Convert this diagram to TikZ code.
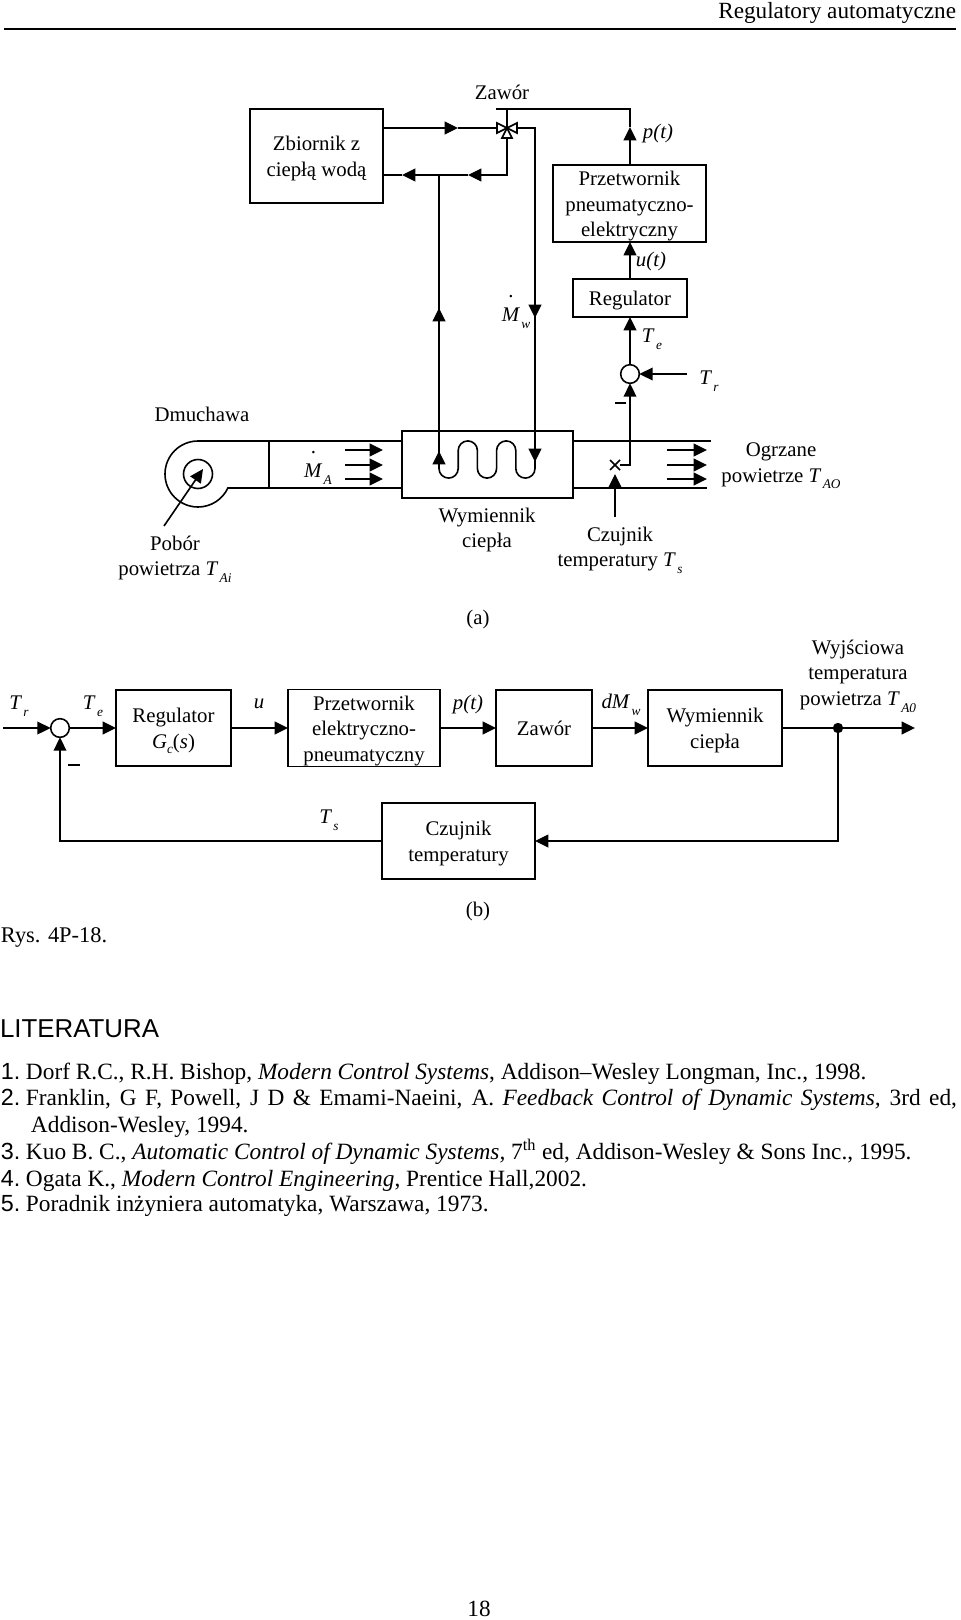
\documentclass[tikz,border=0pt]{standalone}
\usepackage{fontspec}
\setmainfont{Liberation Serif}
\newfontfamily\arial{Liberation Sans}
\usetikzlibrary{arrows.meta,shapes.misc}
\newcommand{\Ind}[2]{\textit{#1}\hspace{1pt}\raisebox{-5pt}{\fontsize{10}{10}\selectfont\textit{#2}}}
\newcommand{\Kropka}[1]{\rlap{\hspace{5pt}\raisebox{18pt}{.}}#1}
\newcommand{\Opis}[1]{\raisebox{-2pt}[\height][\depth]{\begin{tabular}{@{}c@{}}#1\end{tabular}}}
\newcommand{\Nr}[1]{\makebox[18.75pt][l]{\arial #1}}
\tikzset{
	every node/.style={font=\fontsize{15.6}{19.2}\selectfont,inner sep=0pt,outer sep=0pt,align=center},
	blok/.style 2 args={draw,minimum width=#1*0.75pt,minimum height=#2*0.75pt},
	sumator/.style={draw,circle,minimum size=14pt},
	linia/.style={line width=1.2pt},
	flow/.style={linia,-{Triangle[length=10pt,width=9.5pt]}},
	wiersz/.style={anchor=base west,font=\fontsize{17.5}{20}\selectfont},
}
\begin{document}
\begin{tikzpicture}[x=0.75pt,y=-0.75pt,linia]
	\useasboundingbox (0,0) rectangle (960,1620);
	% header
	\node (naglowek) at (956,13) [anchor=east,font=\fontsize{17.4}{20}\selectfont] {Regulatory automatyczne};
	\coordinate (kreskaL) at (4,29);
	\coordinate (kreskaP) at (956,29);
	\draw (kreskaL) -- (kreskaP);

	% (a) boxes
	\node (zbiornik) at (316.5,156) [blok={133}{94}] {\Opis{Zbiornik z\\ciepłą wodą}};
	\node (przetwA) at (629.5,203.5) [blok={153}{77}] {\Opis{Przetwornik\\pneumatyczno-\\elektryczny}};
	\node (regA) at (630,298) [blok={114}{38}] {\Opis{Regulator}};
	\node (wymA) at (487.5,464.5) [blok={171}{67}] {};
	\node (sumA) at (630,374) [sumator] {};
	\node (czujnik) at (615,465) [draw,cross out,minimum size=7.5pt] {};

	% valve
	\coordinate (zawor) at (507,128);
	\coordinate (zaworL) at (497,128);
	\coordinate (zaworP) at (517,128);
	\coordinate (zaworD) at (507,138);
	\coordinate (belkaL) at (496,109);
	\coordinate (belkaP) at (516,109);
	\coordinate (belkaS) at (507,109);
	\draw[fill=white] (zawor) -- ++(-10,-5) -- ++(0,10) -- cycle;
	\draw[fill=white] (zawor) -- ++(10,-5) -- ++(0,10) -- cycle;
	\draw[fill=white] (zawor) -- ++(-5,10) -- ++(10,0) -- cycle;
	\draw[line width=2pt] (belkaL) -- (belkaP);
	\draw[line width=1.6pt] (belkaS) -- (zawor);

	% water pipes
	\coordinate (dolot) at (zbiornik.east |- zawor);
	\coordinate (dolotG) at (458,128);
	\coordinate (powrot) at (507,175);
	\coordinate (powrotG) at (468,175);
	\coordinate (wezel) at (439,175);
	\coordinate (wezelG) at (402,175);
	\coordinate (wezelE) at (zbiornik.east |- wezel);
	\draw[flow] (dolot) -- (dolotG);
	\draw (dolotG) -- (zaworL);
	\draw[flow] (zaworD) -- (powrot) -- (powrotG);
	\draw (powrotG) -- (wezel);
	\draw[flow] (wezel) -- (wezelG);
	\draw (wezelG) -- (wezelE);
	\coordinate (strzW) at (439,308);
	\coordinate (strzP) at (535,318);
	\coordinate (wezownica) at (439,468.5);
	\coordinate (gornaP) at (535,128);
	\draw (wezel) -- (wezownica)
		arc[start angle=180,end angle=360,radius=7.2pt] -- ++(0,-18)
		arc[start angle=180,end angle=0,radius=7.2pt] -- ++(0,18)
		arc[start angle=180,end angle=360,radius=7.2pt] -- ++(0,-18)
		arc[start angle=180,end angle=0,radius=7.2pt] -- ++(0,18)
		arc[start angle=180,end angle=360,radius=7.2pt] -- (strzP) -- (gornaP) -- (zaworP);
	\coordinate (strzWd) at (439,321);
	\coordinate (strzPg) at (535,305);
	\draw[flow] (strzWd) -- (strzW);
	\draw[flow] (strzPg) -- (strzP);
	\coordinate (cewkaW) at (439,451);
	\coordinate (cewkaWd) at (439,464);
	\coordinate (cewkaP) at (535,462);
	\coordinate (cewkaPg) at (535,449);
	\draw[flow] (cewkaWd) -- (cewkaW);
	\draw[flow] (cewkaPg) -- (cewkaP);

	% signal line
	\coordinate (cisnG) at (630,127);
	\draw[flow] (przetwA.north -| cisnG) -- (cisnG);
	\draw (cisnG) |- (belkaP);
	\draw[flow] (regA.north) -- (przetwA.south -| regA.north);
	\draw[flow] (sumA.north) -- (regA.south);
	\coordinate (Trkon) at (687,374);
	\draw[flow] (Trkon) -- (sumA.east);
	\coordinate (czujP) at (630,465);
	\draw[flow] (czujnik.east) -- (czujP) -- (sumA.south);
	\coordinate (czujD) at (615,517);
	\coordinate (czujG) at (615,474);
	\draw[flow] (czujD) -- (czujG);
	\coordinate (minusAL) at (615,403);
	\coordinate (minusAP) at (626,403);
	\draw[line width=1.6pt] (minusAL) -- (minusAP);

	% duct and blower
	\coordinate (dmuch) at (198,474);
	\coordinate (dmuchG) at (198,441);
	\coordinate (dmuchD) at (228,488);
	\node (wirnik) at (dmuch) [draw,circle,minimum size=21.75pt] {};
	\draw (wymA.west |- dmuchG) -- (dmuchG) arc[start angle=90,end angle=335,radius=24.75pt] -- (wymA.west |- dmuchD);
	\coordinate (przegrG) at (269,441);
	\coordinate (przegrD) at (269,488);
	\draw (przegrG) -- (przegrD);
	\coordinate (wlot) at (164,526);
	\coordinate (wlotK) at (203,469);
	\draw[flow] (wlot) -- (wlotK);
	\coordinate (kanalGP) at (711,441);
	\coordinate (kanalDP) at (707,488);
	\draw (wymA.east |- kanalGP) -- (kanalGP);
	\draw (wymA.east |- kanalDP) -- (kanalDP);
	\foreach \yy in {450,465,479} {
		\coordinate (lewyA) at (345,\yy);
		\coordinate (lewyB) at (383,\yy);
		\coordinate (prawyA) at (667,\yy);
		\coordinate (prawyB) at (707,\yy);
		\draw[flow] (lewyA) -- (lewyB);
		\draw[flow] (prawyA) -- (prawyB);
	}

	% (a) labels
	\node (lZawor) at (502,92) {Zawór};
	\node (lpt) at (658,133) {\textit{p(t)}};
	\node (lut) at (651,261) {\textit{u(t)}};
	\node (lTe) at (652,339) {\Ind{T}{e}};
	\node (lTr) at (709,381) {\Ind{T}{r}};
	\node (lMw) at (516,312) {\Kropka{\Ind{M}{w}}};
	\node (lMA) at (318,468) {\Kropka{\Ind{M}{A}}};
	\node (lDmuch) at (202,414) {Dmuchawa};
	\node (lPobor) at (175,559) {Pobór\\powietrza \Ind{T}{Ai}};
	\node (lWymA) at (487,530) {Wymiennik\\ciepła};
	\node (lCzujA) at (620,550) {Czujnik\\temperatury \Ind{T}{s}};
	\node (lOgrz) at (781,466) {Ogrzane\\powietrze \Ind{T}{AO}};
	\node (la) at (478,619) {(a)};

	% (b) boxes
	\node (sumB) at (60,728) [sumator] {};
	\node (regB) at (173.5,728) [blok={115}{76}] {\Opis{Regulator\\\textit{G}\raisebox{-4pt}{\fontsize{10}{10}\selectfont\textit{c}}(\textit{s})}};
	\node (przetwB) at (364,728) [blok={152}{76}] {\Opis{Przetwornik\\elektryczno-\\pneumatyczny}};
	\node (zaworB) at (544,728) [blok={96}{76}] {Zawór};
	\node (wymB) at (715,728) [blok={134}{76}] {\Opis{Wymiennik\\ciepła}};
	\node (czujB) at (458.5,841) [blok={153}{76}] {\Opis{Czujnik\\temperatury}};
	\node (rozgal) at (838,728) [draw,circle,fill=black,minimum size=6.5pt] {};
	\coordinate (wejscie) at (3,728);
	\coordinate (wyjscie) at (915,728);
	\coordinate (powrotB) at (838,841);
	\coordinate (minusBL) at (68,765);
	\coordinate (minusBP) at (80,765);
	\draw[flow] (wejscie) -- (sumB.west);
	\draw[flow] (sumB.east) -- (regB.west);
	\draw[flow] (regB.east) -- (przetwB.west);
	\draw[flow] (przetwB.east) -- (zaworB.west);
	\draw[flow] (zaworB.east) -- (wymB.west);
	\draw (wymB.east) -- (rozgal);
	\draw[flow] (rozgal) -- (wyjscie);
	\draw[flow] (rozgal) -- (powrotB) -- (czujB.east);
	\draw[flow] (czujB.west) -| (sumB.south);
	\draw[line width=1.6pt] (minusBL) -- (minusBP);

	% (b) labels
	\node (lTrB) at (19,706) {\Ind{T}{r}};
	\node (lTeB) at (93,706) {\Ind{T}{e}};
	\node (lu) at (259,704) {\textit{u}};
	\node (lptB) at (468,704) {\textit{p(t)}};
	\node (ldM) at (621,705) {\textit{d}\Ind{M}{w}};
	\node (lWyj) at (858,676) {Wyjściowa\\temperatura\\powietrza \Ind{T}{A0}};
	\node (lTs) at (329,820) {\Ind{T}{s}};
	\node (lb) at (478,911) {(b)};
	\node (lRys) at (1,937) [anchor=west,font=\fontsize{16.8}{20}\selectfont] {Rys. 4P-18.};

	% literature
	\node (lLit) at (0,1029) [anchor=west,font=\arial\fontsize{19.4}{22}\selectfont] {LITERATURA};
	\node (poz1) at (1,1079) [wiersz] {\Nr{1.}Dorf R.C., R.H. Bishop, \textit{Modern Control Systems}, Addison--Wesley Longman, Inc., 1998.};
	\node (poz2) at (1,1105) [wiersz] {\makebox[717pt][s]{\Nr{2.}Franklin, G F, Powell, J D \& Emami-Naeini, A. \textit{Feedback Control of Dynamic Systems,} 3rd ed,}};
	\node (poz2b) at (31,1132) [wiersz] {Addison-Wesley, 1994.};
	\node (poz3) at (1,1159) [wiersz] {\Nr{3.}Kuo B. C., \textit{Automatic Control of Dynamic Systems,} 7\textsuperscript{th} ed, Addison-Wesley \& Sons Inc., 1995.};
	\node (poz4) at (1,1186) [wiersz] {\Nr{4.}Ogata K., \textit{Modern Control Engineering}, Prentice Hall,2002.};
	\node (poz5) at (1,1211) [wiersz] {\Nr{5.}Poradnik inżyniera automatyka, Warszawa, 1973.};
	\node (strona) at (479,1609) [font=\fontsize{17.4}{20}\selectfont] {18};
\end{tikzpicture}
\end{document}
